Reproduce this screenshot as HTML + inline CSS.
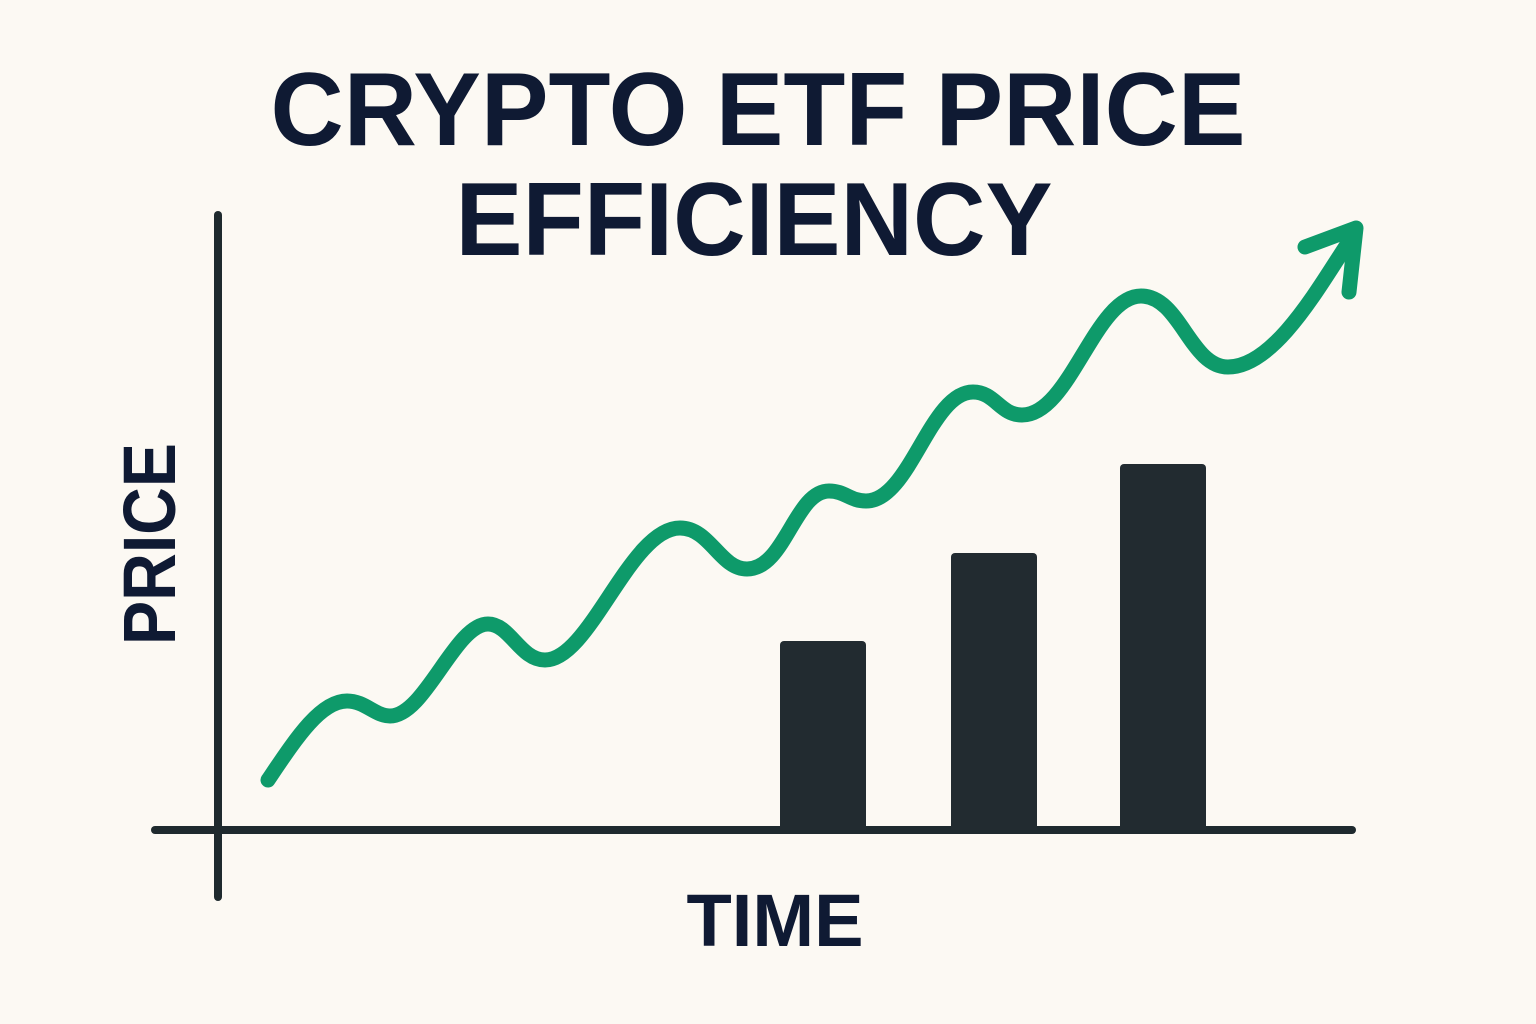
<!DOCTYPE html>
<html><head><meta charset="utf-8"><style>
html,body{margin:0;padding:0;background:#fcf9f3;}
svg{display:block}
text{font-family:"Liberation Sans",sans-serif;font-weight:bold;fill:#0f1a33}
</style></head><body>
<svg width="1536" height="1024" viewBox="0 0 1536 1024">
<rect width="1536" height="1024" fill="#fcf9f3"/>
<text x="758" y="145" font-size="104" text-anchor="middle" textLength="975" lengthAdjust="spacingAndGlyphs">CRYPTO ETF PRICE</text>
<text x="754" y="255" font-size="104" text-anchor="middle" textLength="597" lengthAdjust="spacingAndGlyphs">EFFICIENCY</text>
<text x="0" y="0" font-size="74" text-anchor="middle" textLength="202" lengthAdjust="spacingAndGlyphs" transform="translate(175,544) rotate(-90)">PRICE</text>
<text x="775" y="946" font-size="74" text-anchor="middle" textLength="177" lengthAdjust="spacingAndGlyphs">TIME</text>
<line x1="218" y1="215" x2="218" y2="897" stroke="#1f2a2e" stroke-width="8" stroke-linecap="round"/>
<line x1="155" y1="830" x2="1352" y2="830" stroke="#1f2a2e" stroke-width="8" stroke-linecap="round"/>
<path d="M780,830 V645 a4,4 0 0 1 4,-4 H862 a4,4 0 0 1 4,4 V830 Z" fill="#222b30"/>
<path d="M951,830 V557 a4,4 0 0 1 4,-4 H1033 a4,4 0 0 1 4,4 V830 Z" fill="#222b30"/>
<path d="M1120,830 V468 a4,4 0 0 1 4,-4 H1202 a4,4 0 0 1 4,4 V830 Z" fill="#222b30"/>
<path fill="none" stroke="#0e9a6a" stroke-width="15" stroke-linecap="round" stroke-linejoin="round"
d="M268,780 C295,740 320,701 347,701 C365,701 375,716 390,716 C425,716 455,624 488,624 C510,624 520,660 545,660 C590,660 630,528 680,528 C710,528 720,569 747,569 C785,569 795,491 829,491 C845,491 850,501 866,501 C910,501 930,392 973,392 C995,392 1000,415 1022,415 C1070,415 1095,296 1141,296 C1180,296 1190,367 1228,367 C1275,367 1320,285 1350,240"/>
<polyline points="1305,247 1356,228 1349,292" fill="none" stroke="#0e9a6a" stroke-width="15" stroke-linecap="round" stroke-linejoin="round"/>
</svg>
</body></html>
